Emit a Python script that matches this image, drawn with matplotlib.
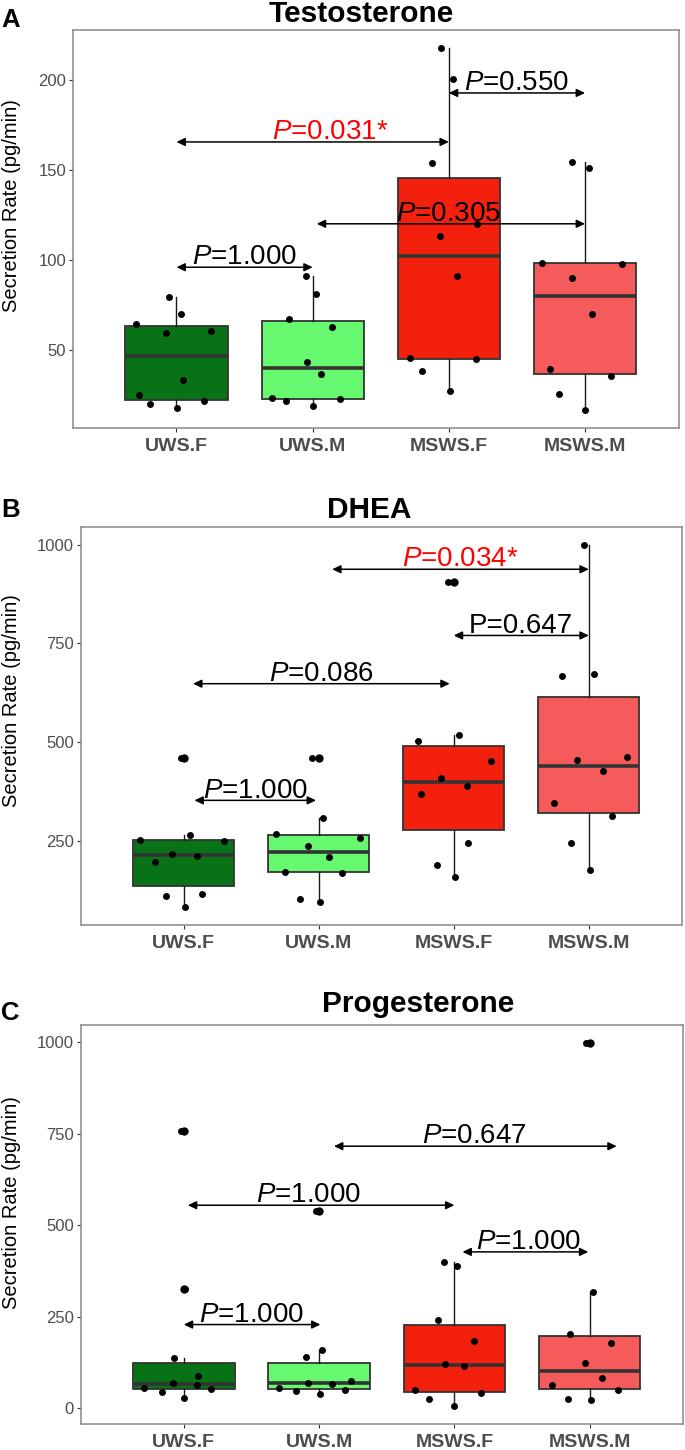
import matplotlib
matplotlib.use('Agg')
import matplotlib.pyplot as plt

plt.rcParams['font.family'] = ['Liberation Sans', 'DejaVu Sans']
plt.rcParams['mathtext.fontset'] = 'custom'
plt.rcParams['mathtext.it'] = 'Liberation Sans:italic'
plt.rcParams['mathtext.rm'] = 'Liberation Sans'

# Grupos
groups = ['UWS.F', 'UWS.M', 'MSWS.F', 'MSWS.M']
box_colors = ['#077316', '#66F96F', '#F2200D', '#F55B5B']

# Testosterona (pg/min)
testo_vals = [
    [64.0, 79.5, 70.0, 59.3, 60.6, 33.2, 24.8, 19.6, 17.3, 21.1],
    [90.9, 81.2, 67.3, 62.5, 43.3, 36.2, 23.3, 21.6, 18.8, 22.4],
    [218.0, 200.7, 154.1, 119.8, 113.1, 90.9, 45.1, 44.6, 38.2, 27.2],
    [154.4, 151.3, 98.5, 97.6, 89.9, 70.1, 39.0, 35.3, 25.0, 16.4],
]
testo_jit = [
    [-0.30, -0.055, 0.035, -0.074, 0.25, 0.048, -0.277, -0.193, 0.003, 0.203],
    [-0.048, 0.023, -0.174, 0.145, -0.039, 0.061, -0.296, -0.196, 0.003, 0.203],
    [-0.061, 0.029, -0.122, 0.203, -0.064, 0.061, -0.286, 0.199, -0.196, 0.006],
    [-0.093, 0.032, -0.315, 0.273, -0.096, 0.048, -0.257, 0.19, -0.193, 0.0],
]

# DHEA (pg/min)
dhea_vals = [
    [460.4, 250.8, 248.3, 264.3, 216.3, 210.4, 195.3, 110.2, 115.3, 81.6],
    [460.4, 306.4, 267.7, 257.6, 235.7, 207.1, 170.9, 168.3, 101.8, 93.4],
    [905.2, 518.5, 503.4, 452.9, 408.3, 387.2, 367.8, 244.9, 186.8, 156.5],
    [999.2, 666.1, 671.1, 461.3, 454.5, 425.1, 344.3, 313.1, 244.1, 175.1],
]
dhea_jit = [
    [-0.023, -0.323, 0.297, 0.046, -0.088, 0.098, -0.212, -0.127, 0.134, 0.007],
    [-0.052, 0.033, -0.313, 0.306, -0.078, 0.078, -0.251, 0.176, -0.14, 0.01],
    [-0.042, 0.042, -0.267, 0.277, -0.091, 0.101, -0.245, 0.104, -0.124, 0.007],
    [-0.039, -0.199, 0.036, 0.28, -0.088, 0.108, -0.258, 0.173, -0.134, 0.007],
]

# Progesterona (pg/min)
prog_vals = [
    [758.0, 324.9, 136.1, 88.9, 68.5, 62.5, 54.5, 53.5, 43.6, 29.1],
    [538.1, 158.8, 140.7, 73.5, 69.9, 66.3, 56.3, 50.8, 47.2, 38.1],
    [401.1, 388.4, 241.4, 182.4, 120.7, 115.3, 49.9, 42.7, 24.5, 6.4],
    [998.2, 316.7, 204.2, 177.9, 124.3, 81.7, 63.5, 49.9, 25.4, 21.8],
]
prog_jit = [
    [-0.022, 0.01, -0.07, 0.105, -0.083, 0.099, -0.296, 0.204, -0.162, 0.003],
    [-0.025, 0.019, -0.096, 0.236, -0.083, 0.099, -0.296, 0.191, -0.172, 0.006],
    [-0.076, 0.022, -0.121, 0.143, -0.07, 0.07, -0.293, 0.197, -0.191, 0.0],
    [-0.025, 0.022, -0.146, 0.156, -0.038, 0.089, -0.28, 0.21, -0.162, 0.01],
]

# Comparacoes: (inicio, fim, y, texto, cor, x do texto)
testo_cmp = [
    (1.0, 2.0, 95.9, r'$P$=1.000', 'black', 1.5),
    (2.03, 4.0, 120.1, r'$P$=0.305', 'black', 3.0),
    (1.0, 3.0, 165.7, r'$P$=0.031*', 'red', 2.13),
    (3.0, 4.0, 193.0, r'$P$=0.550', 'black', 3.5),
]
dhea_cmp = [
    (2.1, 4.0, 937.9, r'$P$=0.034*', 'red', 3.05),
    (3.0, 4.0, 770.0, 'P=0.647', 'black', 3.5),
    (1.07, 2.97, 647.7, r'$P$=0.086', 'black', 2.02),
    (1.08, 1.98, 351.8, r'$P$=1.000', 'black', 1.53),
]
prog_cmp = [
    (2.11, 4.2, 716.4, r'$P$=0.647', 'black', 3.15),
    (1.03, 3.0, 555.0, r'$P$=1.000', 'black', 1.92),
    (3.06, 3.99, 427.4, r'$P$=1.000', 'black', 3.55),
    (1.0, 2.01, 228.7, r'$P$=1.000', 'black', 1.5),
]

W, H = 685, 1450
fig = plt.figure(figsize=(W / 100, H / 100), dpi=100)


def rect(l, t, r, b):
    return [l / W, 1 - b / H, (r - l) / W, (b - t) / H]


def painel(pos, vals, jit, cmp, yticks, title, title_xy, letter, letter_y, ylab_y):
    ax = fig.add_axes(rect(*pos))
    bp = ax.boxplot(vals, positions=[1, 2, 3, 4], widths=0.75, patch_artist=True,
                    showcaps=False, whis=1.5,
                    medianprops=dict(color='#333333', lw=2.6),
                    boxprops=dict(edgecolor='#333333', lw=1.3),
                    whiskerprops=dict(color='#1a1a1a', lw=1.0),
                    flierprops=dict(marker='o', mfc='black', mec='black', ms=5))
    for patch, c in zip(bp['boxes'], box_colors):
        patch.set_facecolor(c)
    for i in range(4):
        xs = [i + 1 + d for d in jit[i]]
        ax.scatter(xs, vals[i], s=25, color='black', lw=0, zorder=4)

    for x0, x1, y, txt, c, tx in cmp:
        ax.annotate('', xy=(x1, y), xytext=(x0, y),
                    arrowprops=dict(arrowstyle='<|-|>,head_length=0.5,head_width=0.24',
                                    color='black', lw=1.1, shrinkA=0, shrinkB=0,
                                    mutation_scale=10), zorder=5)
        ax.annotate(txt, xy=(tx, y), xytext=(0, 2), textcoords='offset points',
                    ha='center', va='baseline', fontsize=20, color=c, zorder=6)

    todos = [v for g in vals for v in g]
    lo, hi = min(todos), max(todos)
    pad = 0.05 * (hi - lo)
    ax.set_ylim(lo - pad, hi + pad)
    ax.set_xlim(0.24, 4.69)
    ax.set_yticks(yticks)
    ax.set_xticks([1, 2, 3, 4])
    ax.set_xticklabels(groups, fontsize=14, fontweight='bold', color='#4d4d4d')
    ax.tick_params(axis='y', labelsize=12, labelcolor='#4d4d4d', length=3,
                   width=0.8, color='#333333', pad=2)
    ax.tick_params(axis='x', length=3, width=0.8, color='#333333', pad=4)
    for s in ax.spines.values():
        s.set_color('#888888')
        s.set_linewidth(1.1)

    fig.text(title_xy[0] / W, 1 - title_xy[1] / H, title, ha='center', va='baseline',
             fontsize=21.5, fontweight='bold')
    fig.text(1 / W, 1 - letter_y / H, letter, ha='left', va='baseline',
             fontsize=18.5, fontweight='bold')
    fig.text(12 / W, 1 - ylab_y / H, 'Secretion Rate (pg/min)', rotation=90,
             ha='center', va='center', fontsize=14.5)
    return ax


painel((73, 30, 679, 428), testo_vals, testo_jit, testo_cmp, [50, 100, 150, 200],
       'Testosterone', (361, 22), 'A', 27, 206)
painel((81, 527, 682, 925), dhea_vals, dhea_jit, dhea_cmp, [250, 500, 750, 1000],
       'DHEA', (369, 518), 'B', 517, 701)
painel((81, 1025, 683, 1424), prog_vals, prog_jit, prog_cmp, [0, 250, 500, 750, 1000],
       'Progesterone', (418, 1012), 'C', 1020, 1203)

fig.savefig('out.png', dpi=100)
